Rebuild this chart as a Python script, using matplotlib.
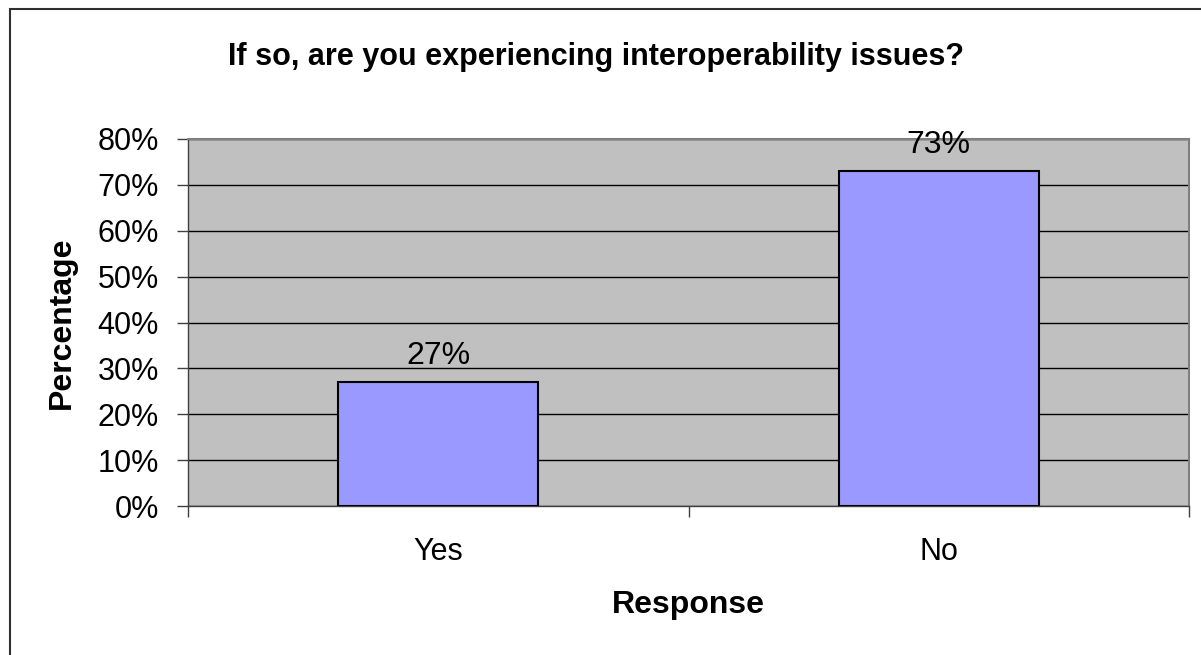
import matplotlib
matplotlib.use("Agg")
import matplotlib.pyplot as plt
from matplotlib.patches import Rectangle

categories = ["Yes", "No"]
values = [27, 73]
yticks = [0, 10, 20, 30, 40, 50, 60, 70, 80]
title = "If so, are you experiencing interoperability issues?"
xlabel = "Response"
ylabel = "Percentage"

plt.rcParams['font.family'] = ['Liberation Sans', 'DejaVu Sans']

W, H = 1201, 655
fig = plt.figure(figsize=(W / 100, H / 100), dpi=100)
ax = fig.add_axes([188 / W, 1 - 506 / H, (1189 - 188) / W, (506 - 139) / H])
ax.set_facecolor("#C0C0C0")

x = list(range(len(categories)))
ax.bar(x, values, width=0.4, color="#9999FF", edgecolor="black", linewidth=1.5, zorder=3)
for xi, v in zip(x, values):
    ax.annotate(f"{v}%", (xi, v), xytext=(0, 8), textcoords="offset points",
                ha="center", va="bottom", fontsize=23, zorder=4)

ax.set_xlim(-0.5, len(categories) - 0.5)
ax.set_ylim(0, 80)
ax.set_yticks(yticks)
ax.set_yticklabels([f"{t}%" for t in yticks], fontsize=22)
ax.yaxis.grid(True, color="black", linewidth=1, zorder=1)
ax.set_axisbelow(True)

ax.set_xticks([i - 0.5 for i in range(len(categories) + 1)], minor=False)
ax.set_xticklabels([""] * (len(categories) + 1))
ax.set_xticks(x, minor=True)
ax.set_xticklabels(categories, minor=True, fontsize=22)
ax.tick_params(axis="x", which="major", length=8, width=1, color="#404040", direction="out")
ax.tick_params(axis="x", which="minor", length=0, pad=22)
ax.tick_params(axis="y", length=8, width=1, color="#404040", direction="out", pad=13)

for s in ["top", "right"]:
    ax.spines[s].set_color("#808080")
    ax.spines[s].set_linewidth(1.5)
for s in ["left", "bottom"]:
    ax.spines[s].set_color("#404040")
    ax.spines[s].set_linewidth(1)

fig.text(596 / W, 1 - 57 / H, title, ha="center", va="center", fontsize=22, fontweight="bold")
fig.text(688 / W, 1 - 605 / H, xlabel, ha="center", va="center", fontsize=23, fontweight="bold")
fig.text(62 / W, 1 - 323 / H, ylabel, ha="center", va="center", fontsize=23, fontweight="bold", rotation=90)

fig.patches.append(Rectangle((9.5 / W, -0.1), 1.2, 1 - 9.5 / H + 0.1, transform=fig.transFigure,
                             fill=False, edgecolor="#303030", linewidth=1.5))

fig.savefig("out.png", dpi=100, facecolor="white")
